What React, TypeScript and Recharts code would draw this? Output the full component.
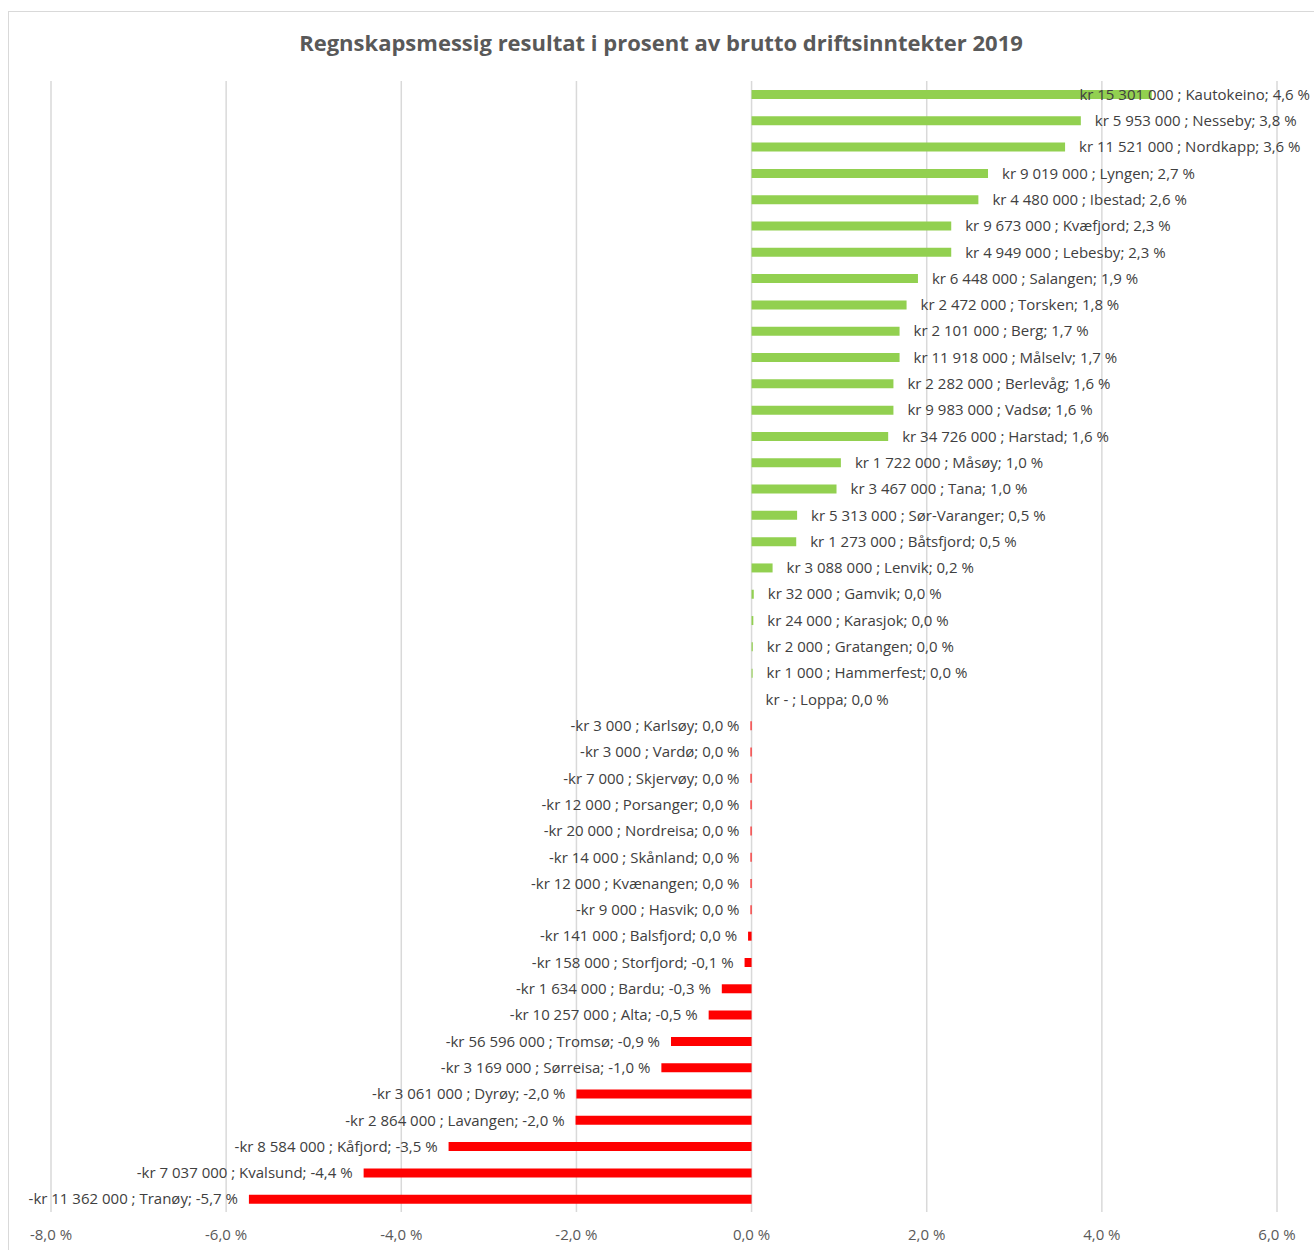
import { BarChart, Bar, XAxis, YAxis, CartesianGrid, Cell, LabelList } from "recharts";

const municipalities = [
  "Kautokeino", "Nesseby", "Nordkapp", "Lyngen", "Ibestad", "Kvæfjord", "Lebesby", "Salangen",
  "Torsken", "Berg", "Målselv", "Berlevåg", "Vadsø", "Harstad", "Måsøy", "Tana", "Sør-Varanger",
  "Båtsfjord", "Lenvik", "Gamvik", "Karasjok", "Gratangen", "Hammerfest", "Loppa", "Karlsøy",
  "Vardø", "Skjervøy", "Porsanger", "Nordreisa", "Skånland", "Kvænangen", "Hasvik", "Balsfjord",
  "Storfjord", "Bardu", "Alta", "Tromsø", "Sørreisa", "Dyrøy", "Lavangen", "Kåfjord", "Kvalsund",
  "Tranøy",
];

// regnskapsmessig resultat, kroner
const amounts = [
  15301000, 5953000, 11521000, 9019000, 4480000, 9673000, 4949000, 6448000,
  2472000, 2101000, 11918000, 2282000, 9983000, 34726000, 1722000, 3467000, 5313000,
  1273000, 3088000, 32000, 24000, 2000, 1000, 0, -3000,
  -3000, -7000, -12000, -20000, -14000, -12000, -9000, -141000,
  -158000, -1634000, -10257000, -56596000, -3169000, -3061000, -2864000, -8584000, -7037000,
  -11362000,
];

// resultat i prosent av brutto driftsinntekter
// (Loppa is 0, kept as a hair above 0 so recharts still hands it to the LabelList)
const percents = [
  4.57, 3.76, 3.58, 2.7, 2.59, 2.28, 2.28, 1.9,
  1.77, 1.69, 1.69, 1.62, 1.62, 1.56, 1.02, 0.97, 0.52,
  0.51, 0.24, 0.025, 0.02, 0.014, 0.012, 0.0001, -0.012,
  -0.012, -0.012, -0.012, -0.012, -0.012, -0.012, -0.012, -0.04,
  -0.08, -0.34, -0.49, -0.92, -1.03, -2.0, -2.01, -3.46, -4.43,
  -5.74,
];

const xTicks = [-8, -6, -4, -2, 0, 2, 4, 6];

const FONT = "'Open Sans', Lato, sans-serif";
const LABEL_SIZE = 15;
const RIGHT_LIMIT = 1310;

const fmtKr = (n: number) => {
  if (n === 0) return "kr - ";
  const s = Math.abs(n).toString().replace(/\B(?=(\d{3})+(?!\d))/g, "\u00a0");
  return (n < 0 ? "-kr " : "kr ") + s + " ";
};

const fmtPct = (v: number) => {
  let s = v.toFixed(1);
  if (s === "-0.0") s = "0.0";
  return s.replace(".", ",") + "\u00a0%";
};

const data = municipalities.map((name, i) => ({
  name,
  value: percents[i],
  label: `${fmtKr(amounts[i])}; ${name}; ${fmtPct(percents[i])}`,
}));

let ctx: CanvasRenderingContext2D | null = null;
const textWidth = (t: string) => {
  if (!ctx) ctx = document.createElement("canvas").getContext("2d");
  if (!ctx) return t.length * 7;
  ctx.font = `${LABEL_SIZE}px ${FONT}`;
  return ctx.measureText(t).width;
};

const BarLabel = (props: any) => {
  const { x, y, width, height, value } = props;
  const text = String(value);
  const cy = y + height / 2;
  const x0 = Math.min(x, x + width);
  const x1 = Math.max(x, x + width);
  if (!text.startsWith("-")) {
    let tx = x1 + 14;
    let anchor: "start" | "end" = "start";
    if (tx + textWidth(text) > RIGHT_LIMIT) {
      tx = RIGHT_LIMIT;
      anchor = "end";
    }
    return (
      <text x={tx} y={cy} dy="0.35em" textAnchor={anchor} fill="#404040" fontSize={LABEL_SIZE} fontFamily={FONT}>
        {text}
      </text>
    );
  }
  return (
    <text x={x0 - 11} y={cy} dy="0.35em" textAnchor="end" fill="#404040" fontSize={LABEL_SIZE} fontFamily={FONT}>
      {text}
    </text>
  );
};

export default function App() {
  return (
    <div style={{ position: "absolute", left: 0, top: 0, width: 1314, height: 1250, overflow: "hidden", background: "#fff" }}>
      <div
        style={{
          position: "absolute",
          left: 8,
          top: 11,
          width: 1320,
          height: 1260,
          border: "1px solid #D9D9D9",
        }}
      />
      <div
        style={{
          position: "absolute",
          left: 8,
          width: 1306,
          top: 27,
          textAlign: "center",
          fontFamily: FONT,
          fontWeight: 700,
          fontSize: 22,
          color: "#595959",
          whiteSpace: "nowrap",
        }}
      >
        Regnskapsmessig resultat i prosent av brutto driftsinntekter 2019
      </div>
      <div style={{ position: "absolute", left: 0, top: 0 }}>
        <BarChart
          width={1314}
          height={1250}
          data={data}
          layout="vertical"
          margin={{ top: 81, right: 37, bottom: 8, left: 51 }}
        >
          <CartesianGrid horizontal={false} stroke="#D9D9D9" strokeWidth={1.5} />
          <XAxis
            type="number"
            domain={[-8, 6]}
            ticks={xTicks}
            axisLine={false}
            tickLine={false}
            height={30}
            tickMargin={11}
            tickFormatter={(v: number) => fmtPct(v)}
            tick={{ fill: "#595959", fontSize: 15, fontFamily: FONT }}
          />
          <YAxis type="category" dataKey="name" hide />
          <Bar dataKey="value" barSize={9} isAnimationActive={false}>
            {data.map((d, i) => (
              <Cell key={i} fill={amounts[i] >= 0 ? "#92D050" : "#FF0000"} />
            ))}
            <LabelList dataKey="label" content={BarLabel} />
          </Bar>
        </BarChart>
      </div>
    </div>
  );
}
